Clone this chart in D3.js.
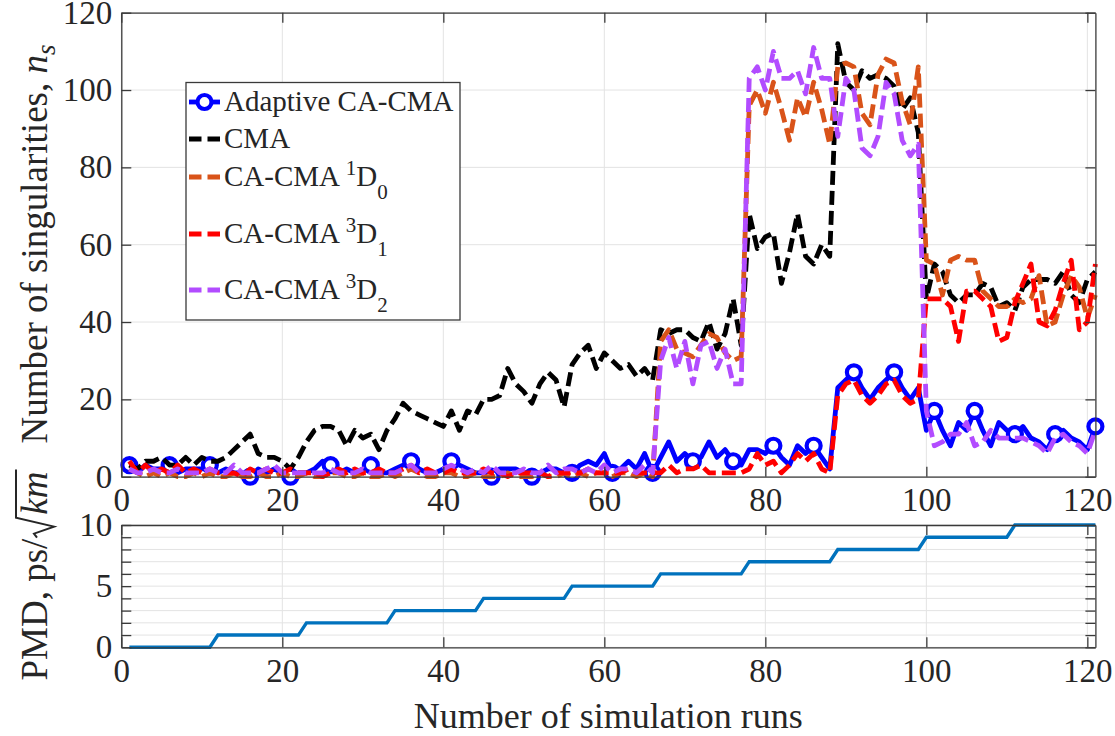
<!DOCTYPE html>
<html>
<head>
<meta charset="utf-8">
<script src="https://d3js.org/d3.v7.min.js"></script>
<style>
body { margin: 0; background: #fff; }
</style>
</head>
<body>
<script>

// simulation run index (x) and tick values
var aRuns = d3.range(1, 122);
var aXTicks = [0, 20, 40, 60, 80, 100, 120];
var aYTicksTop = [0, 20, 40, 60, 80, 100, 120];
var aYTicksPmd = [0, 1, 2, 3, 4, 5, 6, 7, 8, 9, 10];
var aYLabelsPmd = [0, 5, 10];

var aLegendBase = ["Adaptive CA-CMA", "CMA", "CA-CMA ", "CA-CMA ", "CA-CMA "];
var aLegendSup = ["", "", "1", "3", "3"];
var aLegendSub = ["", "", "0", "1", "2"];

var aAdaptive = [
    3, 1, 3, 2, 2, 3, 1, 2, 2, 2,
    3, 1, 2, 1, 1, 0, 2, 1, 2, 1,
    0, 1, 1, 2, 4, 3, 1, 2, 1, 2,
    3, 1, 1, 2, 3, 4, 2, 1, 1, 2,
    4, 3, 2, 1, 1, 0, 2, 2, 2, 1,
    0, 1, 2, 2, 1, 1, 3, 4, 3, 6,
    1, 2, 4, 2, 6, 1, 5, 9, 4, 6,
    4, 5, 9, 5, 7, 4, 3, 7, 7, 6,
    8, 5, 3, 8, 6, 8, 5, 2, 23, 25,
    27, 23, 20, 23, 25, 27, 23, 20, 23, 12,
    17, 12, 8, 14, 12, 17, 12, 8, 14, 12,
    11, 13, 10, 9, 7, 11, 12, 10, 9, 7,
    13
];

var aCma = [
    3, 2, 4, 4, 5, 3, 3, 5, 3, 5,
    4, 4, 5, 7, 9, 11, 6, 5, 5, 4,
    2, 5, 9, 12, 13, 13, 12, 8, 12, 10,
    11, 7, 12, 15, 19, 17, 16, 15, 14, 13,
    17, 12, 17, 16, 20, 20, 21, 28, 24, 22,
    19, 24, 27, 25, 18, 29, 32, 34, 28, 32,
    30, 28, 29, 26, 28, 25, 38, 37, 38, 38,
    36, 35, 40, 33, 37, 46, 34, 68, 59, 62,
    63, 50, 58, 68, 57, 55, 60, 57, 112, 102,
    100, 105, 103, 104, 103, 101, 95, 98, 89, 46,
    55, 53, 47, 45, 47, 47, 50, 49, 44, 45,
    43, 49, 51, 51, 51, 50, 53, 47, 45, 51,
    53
];

var aCa1D0 = [
    2, 1, 0, 1, 0, 1, 0, 0, 1, 0,
    1, 0, 0, 1, 0, 0, 1, 0, 0, 1,
    0, 0, 1, 0, 0, 1, 1, 0, 0, 1,
    0, 0, 1, 0, 1, 2, 1, 0, 0, 1,
    1, 0, 0, 1, 0, 0, 0, 1, 0, 0,
    0, 1, 0, 0, 1, 0, 1, 0, 1, 1,
    0, 1, 1, 0, 1, 0, 35, 38, 33, 32,
    31, 34, 37, 36, 32, 30, 31, 96, 100, 94,
    102, 95, 87, 98, 93, 102, 95, 86, 106, 107,
    106, 94, 91, 104, 108, 107, 97, 91, 106, 56,
    55, 47, 56, 57, 56, 56, 48, 46, 44, 44,
    46, 45, 46, 52, 39, 40, 47, 52, 49, 41,
    47
];

var aCa3D1 = [
    4, 1, 3, 1, 2, 1, 3, 1, 2, 1,
    2, 1, 1, 1, 0, 2, 1, 2, 1, 1,
    2, 1, 1, 1, 0, 1, 2, 1, 2, 1,
    1, 2, 1, 1, 2, 3, 1, 2, 1, 1,
    2, 1, 1, 1, 2, 1, 1, 0, 1, 1,
    1, 1, 0, 1, 1, 1, 1, 2, 1, 1,
    1, 1, 2, 1, 1, 1, 1, 3, 1, 2,
    2, 3, 1, 1, 1, 1, 1, 2, 6, 3,
    4, 1, 3, 6, 4, 6, 2, 1, 21, 24,
    25, 21, 19, 21, 24, 25, 21, 19, 20, 46,
    46, 46, 44, 35, 48, 48, 46, 44, 35, 36,
    45, 50, 55, 40, 39, 43, 50, 56, 38, 40,
    55
];

var aCa3D2 = [
    2, 1, 1, 2, 1, 1, 2, 1, 1, 1,
    2, 1, 1, 3, 1, 1, 1, 2, 3, 1,
    1, 1, 1, 1, 1, 2, 1, 1, 1, 2,
    1, 1, 1, 1, 2, 3, 1, 1, 1, 2,
    3, 2, 1, 2, 1, 3, 1, 1, 1, 2,
    1, 1, 3, 1, 2, 2, 1, 2, 1, 3,
    1, 2, 2, 1, 3, 1, 30, 36, 28, 35,
    24, 34, 35, 28, 33, 24, 24, 103, 106, 100,
    110, 103, 103, 105, 99, 111, 103, 103, 88, 103,
    100, 85, 83, 88, 102, 99, 87, 83, 86, 17,
    8, 9, 11, 11, 14, 8, 9, 12, 10, 10,
    10, 10, 9, 8, 6, 10, 11, 9, 8, 6,
    12
];

var aPmd = [
    0, 0, 0, 0, 0, 0, 0, 0, 0, 0, 0,
    1, 1, 1, 1, 1, 1, 1, 1, 1, 1, 1,
    2, 2, 2, 2, 2, 2, 2, 2, 2, 2, 2,
    3, 3, 3, 3, 3, 3, 3, 3, 3, 3, 3,
    4, 4, 4, 4, 4, 4, 4, 4, 4, 4, 4,
    5, 5, 5, 5, 5, 5, 5, 5, 5, 5, 5,
    6, 6, 6, 6, 6, 6, 6, 6, 6, 6, 6,
    7, 7, 7, 7, 7, 7, 7, 7, 7, 7, 7,
    8, 8, 8, 8, 8, 8, 8, 8, 8, 8, 8,
    9, 9, 9, 9, 9, 9, 9, 9, 9, 9, 9,
    10, 10, 10, 10, 10, 10, 10, 10, 10, 10, 10
];


var W = 1115, H = 736;
var fontFam = '"Liberation Serif", "Times New Roman", Times, serif';
var textColor = "#262626";
var axisColor = "#3a3a3a";
var gridColor = "#e3e3e3";

var aSeries = [aAdaptive, aCma, aCa1D0, aCa3D1, aCa3D2];
var aColors = ["#0000ff", "#000000", "#d95319", "#ff0000", "#b24cff"];
var aDash = [null, "14,6", "14,6", "14,6", "14,6"];

var svg = d3.select("body").append("svg")
    .attr("width", W)
    .attr("height", H)
    .attr("font-family", fontFam);

svg.append("rect").attr("width", W).attr("height", H).attr("fill", "white");

var x = d3.scaleLinear().domain([0, 121]).range([121.3, 1095.4]);
var yTop = d3.scaleLinear().domain([0, 120]).range([476.7, 12.7]);
var yPmd = d3.scaleLinear().domain([0, 10]).range([647.3, 525]);


function addGrid(yScale, aYGrid){
    var g = svg.append("g");
    var y0 = yScale.range()[0], y1 = yScale.range()[1];
    g.selectAll("line.vx")
        .data(aXTicks)
        .enter()
        .append("line")
        .attr("x1", function(d){ return x(d); })
        .attr("x2", function(d){ return x(d); })
        .attr("y1", y0)
        .attr("y2", y1)
        .attr("stroke", gridColor)
        .attr("stroke-width", 1);
    g.selectAll("line.hy")
        .data(aYGrid)
        .enter()
        .append("line")
        .attr("x1", x.range()[0])
        .attr("x2", x.range()[1])
        .attr("y1", function(d){ return yScale(d); })
        .attr("y2", function(d){ return yScale(d); })
        .attr("stroke", gridColor)
        .attr("stroke-width", 1);
}

function styleAxis(g){
    g.attr("font-family", fontFam)
        .attr("font-size", 33)
        .attr("color", axisColor);
    g.selectAll("text").attr("fill", textColor);
    g.selectAll("line").attr("stroke-width", 1.3);
    g.select(".domain").attr("stroke-width", 1.3);
}

function addAxes(yScale, aYTicks, fmt){
    var y0 = yScale.range()[0], y1 = yScale.range()[1];
    var xl = x.range()[0], xr = x.range()[1];

    svg.append("g")
        .attr("transform", "translate(0," + y1 + ")")
        .call(d3.axisTop(x).tickValues(aXTicks).tickSize(-10).tickSizeOuter(0).tickFormat(""))
        .call(styleAxis);

    svg.append("g")
        .attr("transform", "translate(" + xr + ",0)")
        .call(d3.axisRight(yScale).tickValues(aYTicks).tickSize(-10).tickSizeOuter(0).tickFormat(""))
        .call(styleAxis);

    svg.append("g")
        .attr("transform", "translate(0," + y0 + ")")
        .call(d3.axisBottom(x).tickValues(aXTicks).tickSize(-10).tickSizeOuter(0).tickPadding(11))
        .call(styleAxis);

    svg.append("g")
        .attr("transform", "translate(" + xl + ",0)")
        .call(d3.axisLeft(yScale).tickValues(aYTicks).tickSize(-10).tickSizeOuter(0).tickPadding(9).tickFormat(fmt))
        .call(styleAxis);
}


// ---- top panel
addGrid(yTop, aYTicksTop);

var lineTop = d3.line()
    .x(function(d, i){ return x(aRuns[i]); })
    .y(function(d){ return yTop(d); });

aSeries.forEach(function(s, k){
    svg.append("path")
        .datum(s)
        .attr("d", lineTop)
        .attr("fill", "none")
        .attr("stroke", aColors[k])
        .attr("stroke-width", 4.8)
        .attr("stroke-linejoin", "round")
        .attr("stroke-dasharray", aDash[k]);

    if(k == 0){
        svg.selectAll("circle.mk")
            .data(s.filter(function(d, i){ return i % 5 == 0; }))
            .enter()
            .append("circle")
            .attr("cx", function(d, i){ return x(aRuns[i * 5]); })
            .attr("cy", function(d){ return yTop(d); })
            .attr("r", 7)
            .attr("fill", "white")
            .attr("stroke", aColors[0])
            .attr("stroke-width", 4.2);
    }
});

addAxes(yTop, aYTicksTop, d3.format("d"));

// legend
var lg = svg.append("g");
lg.append("rect")
    .attr("x", 186)
    .attr("y", 82.5)
    .attr("width", 274)
    .attr("height", 237.5)
    .attr("fill", "white")
    .attr("stroke", axisColor)
    .attr("stroke-width", 1.3);

var aLegendY = [102, 139, 177, 234, 290];
aLegendBase.forEach(function(name, k){
    var ly = aLegendY[k];
    lg.append("line")
        .attr("x1", 189)
        .attr("x2", 220)
        .attr("y1", ly)
        .attr("y2", ly)
        .attr("stroke", aColors[k])
        .attr("stroke-width", 4.8)
        .attr("stroke-dasharray", k == 0 ? null : "12.5,6");
    if(k == 0){
        lg.append("circle")
            .attr("cx", 204.5)
            .attr("cy", ly)
            .attr("r", 7)
            .attr("fill", "white")
            .attr("stroke", aColors[0])
            .attr("stroke-width", 4.2);
    }
    var t = lg.append("text")
        .attr("x", 224)
        .attr("y", ly + 9)
        .attr("font-size", 29)
        .attr("fill", textColor);
    t.append("tspan").text(name);
    if(aLegendSup[k] != ""){
        t.append("tspan").attr("font-size", 21).attr("dy", -11).text(aLegendSup[k]);
        t.append("tspan").attr("font-size", 29).attr("dy", 11).text("D");
        t.append("tspan").attr("font-size", 21).attr("dy", 13).text(aLegendSub[k]);
    }
});

// y label top
var tl = svg.append("text")
    .attr("transform", "translate(47,244) rotate(-90)")
    .attr("text-anchor", "middle")
    .attr("font-size", 37)
    .attr("fill", textColor);
tl.append("tspan").text("Number of singularities, ");
tl.append("tspan").attr("font-style", "italic").text("n");
tl.append("tspan").attr("font-style", "italic").attr("font-size", 27).attr("dy", 8).text("s");


// ---- bottom panel (PMD)
addGrid(yPmd, aYTicksPmd);

var linePmd = d3.line()
    .x(function(d, i){ return x(aRuns[i]); })
    .y(function(d){ return yPmd(d); });

svg.append("path")
    .datum(aPmd)
    .attr("d", linePmd)
    .attr("fill", "none")
    .attr("stroke", "#0072bd")
    .attr("stroke-width", 3.4);

addAxes(yPmd, aYTicksPmd, function(d){ return aYLabelsPmd.indexOf(d) > -1 ? d : ""; });

// y label bottom, with a hand drawn radical
var gp = svg.append("g").attr("transform", "translate(47,576) rotate(-90)");
var tp1 = gp.append("text").attr("font-size", 37).attr("fill", textColor).text("PMD, ps/");
var tp2 = gp.append("text").attr("font-size", 37).attr("fill", textColor)
    .attr("font-style", "italic").text("km");
var w1 = tp1.node().getComputedTextLength();
var w2 = tp2.node().getComputedTextLength();
var radW = 24;
var px0 = -(w1 + radW + w2) / 2;
tp1.attr("x", px0);
tp2.attr("x", px0 + w1 + radW);
var ra = px0 + w1 + 1;
gp.append("path")
    .attr("d", "M" + ra + ",-10 L" + (ra + 4) + ",-13 L" + (ra + 11) + ",7 L" + (ra + 20) + ",-31 L" + (px0 + w1 + radW + w2 + 2) + ",-31")
    .attr("fill", "none")
    .attr("stroke", textColor)
    .attr("stroke-width", 2);

// x label
svg.append("text")
    .attr("x", (x.range()[0] + x.range()[1]) / 2)
    .attr("y", 728)
    .attr("text-anchor", "middle")
    .attr("font-size", 36)
    .attr("fill", textColor)
    .text("Number of simulation runs");

</script>
</body>
</html>
